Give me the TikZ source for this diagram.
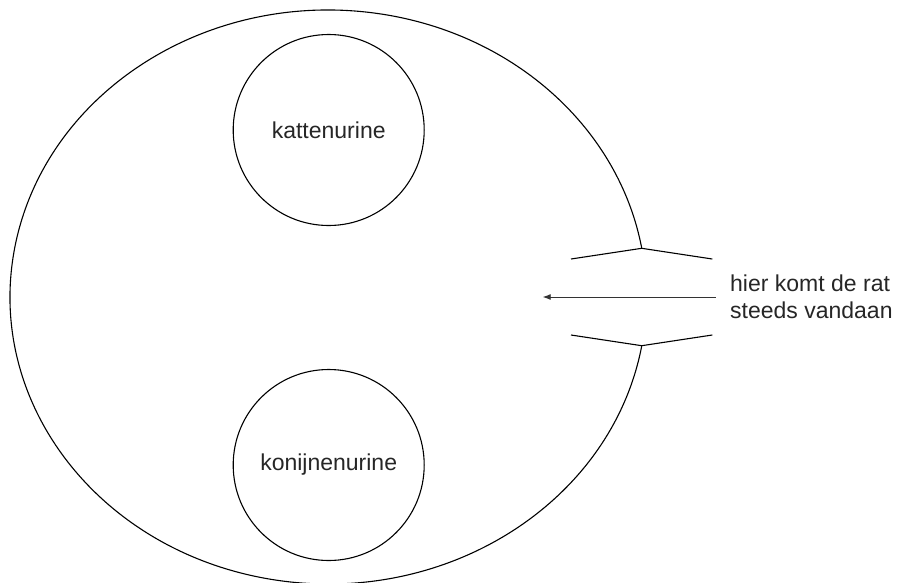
\documentclass[tikz,border=0pt]{standalone}
\usepackage{fontspec}
\setmainfont{Liberation Sans}
\usetikzlibrary{arrows.meta}
\begin{document}
\begin{tikzpicture}[x=1pt,y=-1pt,
  outline/.style={line width=1.1pt,black},
  spot/.style={circle,draw,line width=1.1pt,minimum size=191pt,inner sep=0pt,
    font=\fontsize{23}{27}\selectfont,text=black!85},
  labeltext/.style={font=\fontsize{23}{27}\selectfont,text=black!85,align=left,inner sep=0pt,anchor=west},
  ratarrow/.style={line width=0.9pt,black!80,-{Latex[length=8pt,width=6pt]}}]
\useasboundingbox (0,0) rectangle (900,582);
% outer enclosure (open at the right)
\coordinate (c) at (328.2,297);
\draw[outline] (c) ++(9.8:318.2 and 287) arc[start angle=9.8,end angle=350.2,x radius=318.2,y radius=287];
% entrance edges
\coordinate (tl) at (571,259);
\coordinate (tj) at (641.7,248.3);
\coordinate (tr) at (712.3,259);
\coordinate (bl) at (571,335);
\coordinate (bj) at (641.7,345.7);
\coordinate (br) at (712.3,335);
\draw[outline] (tl) -- (tj) -- (tr);
\draw[outline] (bl) -- (bj) -- (br);
% inner circles
\node[spot] (kat) at (328.7,130) {kattenurine};
\node[spot] (kon) at (328.7,465) {konijnenurine};
% label and arrow
\node[labeltext] (rat) at (730,297) {hier komt de rat\\steeds vandaan};
\coordinate (as) at (715.7,297);
\coordinate (ae) at (542.7,297);
\draw[ratarrow] (as) -- (ae);
\end{tikzpicture}
\end{document}
